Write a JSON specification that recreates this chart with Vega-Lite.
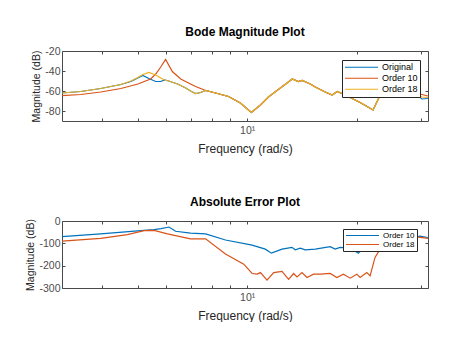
{
  "$schema": "https://vega.github.io/schema/vega-lite/v6.json",
  "background": "white",
  "padding": {"left": 25, "top": 25, "right": 0, "bottom": 0},
  "spacing": 40,
  "config": {
    "font": "Liberation Sans",
    "view": {"stroke": "#4a4a4a", "strokeWidth": 1},
    "axis": {
      "domain": false, "grid": false,
      "tickColor": "#4a4a4a", "tickSize": -3,
      "labelColor": "#4d4d4d", "labelFontSize": 10.5, "labelFont": "Liberation Sans",
      "titleColor": "#262626", "titleFont": "Liberation Sans", "titleFontWeight": "normal"
    },
    "title": {"font": "Liberation Sans", "fontSize": 12, "fontWeight": "bold", "color": "#000000", "offset": 7},
    "legend": {
      "orient": "none", "title": null, "fillColor": "white", "strokeColor": "#262626",
      "symbolType": "stroke", "symbolStrokeWidth": 1.2, "labelFont": "Liberation Sans",
      "labelColor": "#000000", "rowPadding": 0
    }
  },
  "datasets": {
    "bode": [
      {"f": 3.10, "db": -62, "s": "Original"},
      {"f": 3.49, "db": -60.5, "s": "Original"},
      {"f": 3.96, "db": -57.5, "s": "Original"},
      {"f": 4.50, "db": -53.5, "s": "Original"},
      {"f": 4.79, "db": -50.5, "s": "Original"},
      {"f": 5.01, "db": -47, "s": "Original"},
      {"f": 5.17, "db": -44.5, "s": "Original"},
      {"f": 5.37, "db": -47.5, "s": "Original"},
      {"f": 5.61, "db": -50.5, "s": "Original"},
      {"f": 5.79, "db": -50.5, "s": "Original"},
      {"f": 5.93, "db": -49, "s": "Original"},
      {"f": 6.09, "db": -50, "s": "Original"},
      {"f": 6.44, "db": -53, "s": "Original"},
      {"f": 6.78, "db": -57, "s": "Original"},
      {"f": 6.99, "db": -60, "s": "Original"},
      {"f": 7.22, "db": -62.5, "s": "Original"},
      {"f": 7.45, "db": -61.5, "s": "Original"},
      {"f": 7.69, "db": -59.5, "s": "Original"},
      {"f": 8.19, "db": -62, "s": "Original"},
      {"f": 8.89, "db": -65.5, "s": "Original"},
      {"f": 9.58, "db": -72, "s": "Original"},
      {"f": 10.27, "db": -81.5, "s": "Original"},
      {"f": 10.88, "db": -74, "s": "Original"},
      {"f": 11.44, "db": -66, "s": "Original"},
      {"f": 12.34, "db": -57, "s": "Original"},
      {"f": 13.31, "db": -48, "s": "Original"},
      {"f": 13.82, "db": -50.5, "s": "Original"},
      {"f": 14.17, "db": -49.5, "s": "Original"},
      {"f": 14.91, "db": -53, "s": "Original"},
      {"f": 15.39, "db": -56, "s": "Original"},
      {"f": 16.39, "db": -61, "s": "Original"},
      {"f": 17.13, "db": -64, "s": "Original"},
      {"f": 17.68, "db": -60.5, "s": "Original"},
      {"f": 18.59, "db": -64, "s": "Original"},
      {"f": 20.44, "db": -71.5, "s": "Original"},
      {"f": 22.18, "db": -79, "s": "Original"},
      {"f": 23.49, "db": -60, "s": "Original"},
      {"f": 24.39, "db": -52, "s": "Original"},
      {"f": 25.49, "db": -50, "s": "Original"},
      {"f": 26.81, "db": -54, "s": "Original"},
      {"f": 28.02, "db": -60, "s": "Original"},
      {"f": 29.10, "db": -63, "s": "Original"},
      {"f": 30.22, "db": -68, "s": "Original"},
      {"f": 31.38, "db": -67.5, "s": "Original"},

      {"f": 3.10, "db": -64.7, "s": "Order 10"},
      {"f": 3.49, "db": -63.5, "s": "Order 10"},
      {"f": 3.96, "db": -61, "s": "Order 10"},
      {"f": 4.50, "db": -57.5, "s": "Order 10"},
      {"f": 5.01, "db": -53, "s": "Order 10"},
      {"f": 5.43, "db": -48, "s": "Order 10"},
      {"f": 5.61, "db": -43, "s": "Order 10"},
      {"f": 5.79, "db": -36, "s": "Order 10"},
      {"f": 5.97, "db": -28.5, "s": "Order 10"},
      {"f": 6.23, "db": -40.5, "s": "Order 10"},
      {"f": 6.57, "db": -48, "s": "Order 10"},
      {"f": 6.99, "db": -53, "s": "Order 10"},
      {"f": 7.22, "db": -55.5, "s": "Order 10"},
      {"f": 7.69, "db": -59.5, "s": "Order 10"},
      {"f": 8.19, "db": -62, "s": "Order 10"},
      {"f": 8.89, "db": -65.5, "s": "Order 10"},
      {"f": 9.58, "db": -72, "s": "Order 10"},
      {"f": 10.27, "db": -81.5, "s": "Order 10"},
      {"f": 10.88, "db": -74, "s": "Order 10"},
      {"f": 11.44, "db": -66, "s": "Order 10"},
      {"f": 12.34, "db": -57, "s": "Order 10"},
      {"f": 13.31, "db": -48, "s": "Order 10"},
      {"f": 13.82, "db": -50.5, "s": "Order 10"},
      {"f": 14.17, "db": -49.5, "s": "Order 10"},
      {"f": 14.91, "db": -53, "s": "Order 10"},
      {"f": 15.39, "db": -56, "s": "Order 10"},
      {"f": 16.39, "db": -61, "s": "Order 10"},
      {"f": 17.13, "db": -64, "s": "Order 10"},
      {"f": 17.68, "db": -60.5, "s": "Order 10"},
      {"f": 18.59, "db": -64, "s": "Order 10"},
      {"f": 20.44, "db": -71.5, "s": "Order 10"},
      {"f": 22.18, "db": -79, "s": "Order 10"},
      {"f": 23.49, "db": -60, "s": "Order 10"},
      {"f": 24.39, "db": -52, "s": "Order 10"},
      {"f": 25.49, "db": -50, "s": "Order 10"},
      {"f": 26.81, "db": -54, "s": "Order 10"},
      {"f": 28.02, "db": -60, "s": "Order 10"},
      {"f": 29.10, "db": -62, "s": "Order 10"},
      {"f": 30.22, "db": -63.5, "s": "Order 10"},
      {"f": 31.38, "db": -65, "s": "Order 10"},

      {"f": 3.10, "db": -62, "s": "Order 18"},
      {"f": 3.49, "db": -60.5, "s": "Order 18"},
      {"f": 3.96, "db": -57.5, "s": "Order 18"},
      {"f": 4.50, "db": -53.5, "s": "Order 18"},
      {"f": 4.79, "db": -50, "s": "Order 18"},
      {"f": 5.01, "db": -46.5, "s": "Order 18"},
      {"f": 5.17, "db": -43.5, "s": "Order 18"},
      {"f": 5.37, "db": -41.5, "s": "Order 18"},
      {"f": 5.61, "db": -44, "s": "Order 18"},
      {"f": 5.79, "db": -47, "s": "Order 18"},
      {"f": 5.93, "db": -49, "s": "Order 18"},
      {"f": 6.09, "db": -50, "s": "Order 18"},
      {"f": 6.44, "db": -53, "s": "Order 18"},
      {"f": 6.78, "db": -57, "s": "Order 18"},
      {"f": 6.99, "db": -60, "s": "Order 18"},
      {"f": 7.22, "db": -62.5, "s": "Order 18"},
      {"f": 7.45, "db": -61.5, "s": "Order 18"},
      {"f": 7.69, "db": -59.5, "s": "Order 18"},
      {"f": 8.19, "db": -62, "s": "Order 18"},
      {"f": 8.89, "db": -65.5, "s": "Order 18"},
      {"f": 9.58, "db": -72, "s": "Order 18"},
      {"f": 10.27, "db": -81.5, "s": "Order 18"},
      {"f": 10.88, "db": -74, "s": "Order 18"},
      {"f": 11.44, "db": -66, "s": "Order 18"},
      {"f": 12.34, "db": -57, "s": "Order 18"},
      {"f": 13.31, "db": -48, "s": "Order 18"},
      {"f": 13.82, "db": -50.5, "s": "Order 18"},
      {"f": 14.17, "db": -49.5, "s": "Order 18"},
      {"f": 14.91, "db": -53, "s": "Order 18"},
      {"f": 15.39, "db": -56, "s": "Order 18"},
      {"f": 16.39, "db": -61, "s": "Order 18"},
      {"f": 17.13, "db": -64, "s": "Order 18"},
      {"f": 17.68, "db": -60.5, "s": "Order 18"},
      {"f": 18.59, "db": -64, "s": "Order 18"},
      {"f": 20.44, "db": -71.5, "s": "Order 18"},
      {"f": 22.18, "db": -79, "s": "Order 18"},
      {"f": 23.49, "db": -60, "s": "Order 18"},
      {"f": 24.39, "db": -52, "s": "Order 18"},
      {"f": 25.49, "db": -50, "s": "Order 18"},
      {"f": 26.81, "db": -54, "s": "Order 18"},
      {"f": 28.02, "db": -60, "s": "Order 18"},
      {"f": 29.10, "db": -63, "s": "Order 18"},
      {"f": 30.22, "db": -66, "s": "Order 18"},
      {"f": 31.38, "db": -66.5, "s": "Order 18"}
    ],
    "err": [
      {"f": 3.10, "db": -70, "s": "Order 10"},
      {"f": 3.96, "db": -58, "s": "Order 10"},
      {"f": 5.10, "db": -43, "s": "Order 10"},
      {"f": 5.55, "db": -39, "s": "Order 10"},
      {"f": 5.80, "db": -34, "s": "Order 10"},
      {"f": 6.10, "db": -27, "s": "Order 10"},
      {"f": 6.36, "db": -46, "s": "Order 10"},
      {"f": 6.99, "db": -54, "s": "Order 10"},
      {"f": 7.69, "db": -58, "s": "Order 10"},
      {"f": 8.72, "db": -85, "s": "Order 10"},
      {"f": 10.32, "db": -108, "s": "Order 10"},
      {"f": 11.22, "db": -126, "s": "Order 10"},
      {"f": 11.66, "db": -144, "s": "Order 10"},
      {"f": 12.47, "db": -126, "s": "Order 10"},
      {"f": 13.28, "db": -118, "s": "Order 10"},
      {"f": 13.56, "db": -129, "s": "Order 10"},
      {"f": 14.00, "db": -122, "s": "Order 10"},
      {"f": 14.44, "db": -129, "s": "Order 10"},
      {"f": 15.39, "db": -126, "s": "Order 10"},
      {"f": 16.91, "db": -115, "s": "Order 10"},
      {"f": 17.45, "db": -126, "s": "Order 10"},
      {"f": 18.01, "db": -118, "s": "Order 10"},
      {"f": 19.19, "db": -121, "s": "Order 10"},
      {"f": 20.22, "db": -144, "s": "Order 10"},
      {"f": 20.87, "db": -118, "s": "Order 10"},
      {"f": 23.93, "db": -110, "s": "Order 10"},
      {"f": 26.30, "db": -90, "s": "Order 10"},
      {"f": 28.38, "db": -75, "s": "Order 10"},
      {"f": 29.84, "db": -68, "s": "Order 10"},
      {"f": 31.38, "db": -74, "s": "Order 10"},

      {"f": 3.10, "db": -90, "s": "Order 18"},
      {"f": 3.96, "db": -78, "s": "Order 18"},
      {"f": 4.69, "db": -61, "s": "Order 18"},
      {"f": 5.21, "db": -43, "s": "Order 18"},
      {"f": 5.55, "db": -42, "s": "Order 18"},
      {"f": 6.04, "db": -58, "s": "Order 18"},
      {"f": 6.99, "db": -80, "s": "Order 18"},
      {"f": 7.69, "db": -80, "s": "Order 18"},
      {"f": 8.72, "db": -148, "s": "Order 18"},
      {"f": 9.79, "db": -193, "s": "Order 18"},
      {"f": 10.32, "db": -235, "s": "Order 18"},
      {"f": 10.65, "db": -238, "s": "Order 18"},
      {"f": 10.88, "db": -231, "s": "Order 18"},
      {"f": 11.34, "db": -265, "s": "Order 18"},
      {"f": 11.83, "db": -231, "s": "Order 18"},
      {"f": 12.47, "db": -226, "s": "Order 18"},
      {"f": 13.00, "db": -261, "s": "Order 18"},
      {"f": 13.42, "db": -235, "s": "Order 18"},
      {"f": 13.71, "db": -250, "s": "Order 18"},
      {"f": 14.15, "db": -231, "s": "Order 18"},
      {"f": 14.60, "db": -253, "s": "Order 18"},
      {"f": 15.22, "db": -238, "s": "Order 18"},
      {"f": 15.88, "db": -238, "s": "Order 18"},
      {"f": 16.91, "db": -235, "s": "Order 18"},
      {"f": 17.64, "db": -253, "s": "Order 18"},
      {"f": 18.39, "db": -238, "s": "Order 18"},
      {"f": 19.19, "db": -256, "s": "Order 18"},
      {"f": 20.02, "db": -238, "s": "Order 18"},
      {"f": 20.44, "db": -253, "s": "Order 18"},
      {"f": 21.32, "db": -231, "s": "Order 18"},
      {"f": 21.77, "db": -246, "s": "Order 18"},
      {"f": 22.46, "db": -163, "s": "Order 18"},
      {"f": 23.19, "db": -126, "s": "Order 18"},
      {"f": 25.01, "db": -90, "s": "Order 18"},
      {"f": 27.14, "db": -75, "s": "Order 18"},
      {"f": 28.92, "db": -70, "s": "Order 18"},
      {"f": 31.38, "db": -78, "s": "Order 18"}
    ]
  },
  "vconcat": [
    {
      "width": 366, "height": 70,
      "title": {"text": "Bode Magnitude Plot"},
      "data": {"name": "bode"},
      "layer": [
        {
          "mark": {"type": "line", "strokeWidth": 1.2, "clip": true},
          "encoding": {
            "x": {"field": "f", "type": "quantitative",
              "scale": {"type": "log", "domain": [3.1, 31.4], "nice": false},
              "axis": {"values": [4, 5, 6, 7, 8, 9, 10, 20, 30], "labelExpr": "datum.value == 10 ? '10¹' : ''",
                "title": "Frequency (rad/s)", "titleFontSize": 12, "labelPadding": 7, "titlePadding": 8}},
            "y": {"field": "db", "type": "quantitative",
              "scale": {"domain": [-90, -20], "nice": false, "zero": false},
              "axis": {"values": [-20, -40, -60, -80], "labelExpr": "toString(datum.value)", "title": "Magnitude (dB)", "titleFontSize": 10.5, "labelPadding": 5, "titlePadding": 3}},
            "color": {"field": "s", "type": "nominal",
              "scale": {"domain": ["Original", "Order 10", "Order 18"], "range": ["#0072BD", "#D95319", "#EDB120"]},
              "legend": {"legendX": 280, "legendY": 9, "labelFontSize": 9, "symbolSize": 1089, "padding": 2, "clipHeight": 10.5, "labelOffset": 3}}
          }
        },
        {
          "mark": {"type": "line", "opacity": 0},
          "encoding": {
            "x": {"field": "f", "type": "quantitative", "axis": {"orient": "top", "values": [4, 5, 6, 7, 8, 9, 10, 20, 30], "labels": false, "title": null}},
            "y": {"field": "db", "type": "quantitative", "axis": {"orient": "right", "values": [-20, -40, -60, -80], "labels": false, "title": null}}
          }
        }
      ],
      "resolve": {"axis": {"x": "independent", "y": "independent"}}
    },
    {
      "width": 366, "height": 67,
      "title": {"text": "Absolute Error Plot"},
      "data": {"name": "err"},
      "layer": [
        {
          "mark": {"type": "line", "strokeWidth": 1.2, "clip": true},
          "encoding": {
            "x": {"field": "f", "type": "quantitative",
              "scale": {"type": "log", "domain": [3.1, 31.4], "nice": false},
              "axis": {"values": [4, 5, 6, 7, 8, 9, 10, 20, 30], "labelExpr": "datum.value == 10 ? '10¹' : ''",
                "title": "Frequency (rad/s)", "titleFontSize": 12, "labelPadding": 7, "titlePadding": 8}},
            "y": {"field": "db", "type": "quantitative",
              "scale": {"domain": [-300, 0], "nice": false, "zero": false},
              "axis": {"values": [0, -100, -200, -300], "labelExpr": "toString(datum.value)", "title": "Magnitude (dB)", "titleFontSize": 10.5, "labelPadding": 5, "titlePadding": 3}},
            "color": {"field": "s", "type": "nominal",
              "scale": {"domain": ["Order 10", "Order 18"], "range": ["#0072BD", "#D95319"]},
              "legend": {"legendX": 281, "legendY": 8, "labelFontSize": 8, "symbolSize": 1089, "padding": 2, "clipHeight": 9, "labelOffset": 3}}
          }
        },
        {
          "mark": {"type": "line", "opacity": 0},
          "encoding": {
            "x": {"field": "f", "type": "quantitative", "axis": {"orient": "top", "values": [4, 5, 6, 7, 8, 9, 10, 20, 30], "labels": false, "title": null}},
            "y": {"field": "db", "type": "quantitative", "axis": {"orient": "right", "values": [0, -100, -200, -300], "labels": false, "title": null}}
          }
        }
      ],
      "resolve": {"axis": {"x": "independent", "y": "independent"}}
    }
  ],
  "resolve": {"scale": {"color": "independent"}}
}
